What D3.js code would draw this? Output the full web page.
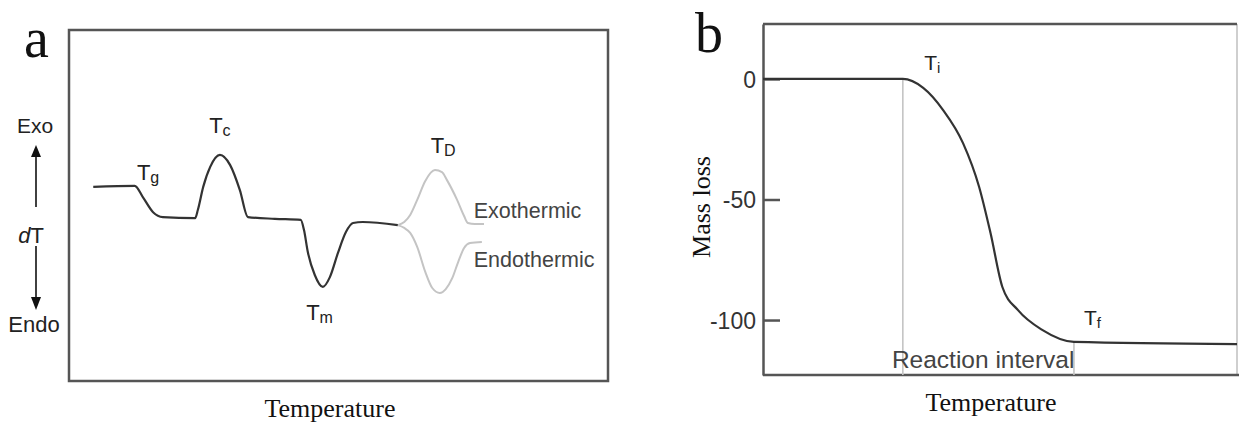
<!DOCTYPE html>
<html>
<head>
<meta charset="utf-8">
<script src="https://cdn.jsdelivr.net/npm/d3@7"></script>
<style>
    body { margin: 0; background: #fff; }
    svg { display: block; }
    .sans { font-family: "Liberation Sans", Arial, sans-serif; }
    .serif { font-family: "Liberation Serif", "Times New Roman", serif; }
</style>
</head>
<body>
<svg id="chart" width="1243" height="423"></svg>
<script>
// (a) DSC sketch: main trace, then the two branches at T_D
const dscTemp = [4.5, 12.2, 13.7, 15.6, 17.4, 23.4, 23.9, 24.9, 26.2, 28.0, 29.9, 31.7, 33.2, 38.2, 43.0,
                 43.6, 44.3, 45.6, 47.1, 48.4, 49.9, 51.4, 52.7, 54.5, 61.0];
const dscVal  = [55.3, 55.6, 52.4, 48.1, 46.7, 46.4, 48.7, 55.3, 61.0, 64.4, 61.5, 54.4, 46.7, 46.2, 45.9,
                 43.0, 36.8, 30.2, 26.8, 29.6, 36.5, 42.5, 45.0, 45.3, 44.4];
const exoTemp = [61.0, 62.2, 63.3, 64.6, 66.1, 67.9, 69.2, 70.1, 72.0, 73.3, 74.0, 75.3, 77.0];
const exoVal  = [44.4, 45.3, 47.3, 51.6, 57.0, 60.1, 59.5, 57.3, 51.6, 47.0, 45.0, 44.7, 44.7];
const endoTemp = [61.0, 62.2, 63.3, 64.6, 66.1, 67.4, 68.8, 69.9, 71.1, 72.2, 73.3, 74.4, 76.6];
const endoVal  = [44.4, 43.6, 42.2, 38.2, 31.1, 26.5, 25.1, 26.2, 29.3, 33.9, 37.9, 39.3, 39.6];
const dscSubs = ['g', 'c', 'm', 'D'];
const dscLabelTemp = [12.6, 26.0, 44.0, 67.1];
const dscLabelVal  = [57.3, 70.7, 17.4, 65.0];

// (b) TGA sketch
const tgaTemp = [0, 29.5, 33.8, 38.0, 42.2, 45.6, 48.0, 50.5, 53.8, 58.9, 65.6, 100];
const tgaMass = [0, 0, -3.7, -12.9, -26.6, -44.8, -63.9, -86.3, -95.9, -104.1, -109.1, -110];
const tgaTicks = [0, -50, -100];
const tgaOnset = 29.5, tgaEnd = 65.6;

const svg = d3.select('#chart');
const ink = '#333';

// ---------- panel a ----------
const A = {left: 69, top: 30, width: 539, height: 351};
const xA = d3.scaleLinear().domain([0, 100]).range([A.left, A.left + A.width]);
const yA = d3.scaleLinear().domain([0, 100]).range([A.top + A.height, A.top]);

svg.append('rect')
    .attr('x', A.left).attr('y', A.top)
    .attr('width', A.width).attr('height', A.height)
    .attr('fill', 'none').attr('stroke', '#555').attr('stroke-width', 2.5);

const lineA = d3.line().x(d => xA(d[0])).y(d => yA(d[1])).curve(d3.curveMonotoneX);

svg.append('path')
    .datum(exoTemp.map((t, i) => [t, exoVal[i]]))
    .attr('d', lineA).attr('fill', 'none').attr('stroke', '#c4c4c4').attr('stroke-width', 2);
svg.append('path')
    .datum(endoTemp.map((t, i) => [t, endoVal[i]]))
    .attr('d', lineA).attr('fill', 'none').attr('stroke', '#c4c4c4').attr('stroke-width', 2);
svg.append('path')
    .datum(dscTemp.map((t, i) => [t, dscVal[i]]))
    .attr('d', lineA).attr('fill', 'none').attr('stroke', ink).attr('stroke-width', 2.2);

dscSubs.forEach((s, i) => {
    const t = svg.append('text').attr('class', 'sans')
        .attr('x', xA(dscLabelTemp[i])).attr('y', yA(dscLabelVal[i]))
        .attr('fill', '#222').attr('font-size', 22);
    t.append('tspan').text('T');
    t.append('tspan').attr('dy', 3).attr('font-size', 16).text(s);
});

svg.append('text').attr('class', 'sans')
    .attr('x', xA(75.1)).attr('y', 218).attr('fill', '#444').attr('font-size', 21.5).text('Exothermic');
svg.append('text').attr('class', 'sans')
    .attr('x', xA(75.1)).attr('y', 267).attr('fill', '#444').attr('font-size', 21.5).text('Endothermic');

// y direction legend
svg.append('text').attr('class', 'sans').attr('x', 35).attr('y', 133)
    .attr('text-anchor', 'middle').attr('font-size', 21).attr('fill', '#222').text('Exo');
svg.append('text').attr('class', 'sans').attr('x', 34).attr('y', 332)
    .attr('text-anchor', 'middle').attr('font-size', 22).attr('fill', '#222').text('Endo');
const dT = svg.append('text').attr('class', 'sans').attr('x', 31).attr('y', 243)
    .attr('text-anchor', 'middle').attr('font-size', 22).attr('fill', '#222');
dT.append('tspan').attr('font-style', 'italic').text('d');
dT.append('tspan').text('T');

svg.append('line').attr('x1', 36).attr('x2', 36).attr('y1', 207).attr('y2', 155)
    .attr('stroke', '#111').attr('stroke-width', 1.6);
svg.append('path').attr('d', 'M36,145 L31,157 L41,157 Z').attr('fill', '#111');
svg.append('line').attr('x1', 36).attr('x2', 36).attr('y1', 246).attr('y2', 299)
    .attr('stroke', '#111').attr('stroke-width', 1.6);
svg.append('path').attr('d', 'M36,310 L31,297 L41,297 Z').attr('fill', '#111');

svg.append('text').attr('class', 'serif').attr('x', 24).attr('y', 57)
    .attr('font-size', 56).attr('fill', '#111').text('a');
svg.append('text').attr('class', 'serif').attr('x', 330).attr('y', 417)
    .attr('text-anchor', 'middle').attr('font-size', 26).attr('fill', '#111').text('Temperature');

// ---------- panel b ----------
const B = {left: 763, top: 24, width: 474, height: 351};
const xB = d3.scaleLinear().domain([0, 100]).range([B.left, B.left + B.width]);
const yB = d3.scaleLinear().domain([22.8, -122.8]).range([B.top, B.top + B.height]);

svg.append('line').attr('x1', B.left + B.width).attr('x2', B.left + B.width)
    .attr('y1', B.top).attr('y2', B.top + B.height)
    .attr('stroke', '#cfcfcf').attr('stroke-width', 2);
svg.append('line').attr('x1', B.left).attr('x2', B.left + B.width)
    .attr('y1', B.top).attr('y2', B.top)
    .attr('stroke', '#555').attr('stroke-width', 2.5);
svg.append('line').attr('x1', B.left).attr('x2', B.left + B.width + 2)
    .attr('y1', B.top + B.height).attr('y2', B.top + B.height)
    .attr('stroke', '#555').attr('stroke-width', 2.5);

const yAxis = svg.append('g')
    .attr('transform', `translate(${B.left},0)`)
    .call(d3.axisLeft(yB).tickValues(tgaTicks).tickFormat(d => String(d))
        .tickSizeInner(-17).tickSizeOuter(0).tickPadding(7));
yAxis.select('.domain').attr('stroke', '#555').attr('stroke-width', 2.5);
yAxis.selectAll('.tick line').attr('stroke', '#555').attr('stroke-width', 2.5);
yAxis.selectAll('.tick text').attr('class', 'sans').attr('font-size', 23).attr('fill', '#333')
    .attr('dy', '0.36em');

// reaction interval guides
[[tgaOnset, 0], [tgaEnd, -109.1]].forEach(([t, m]) => {
    svg.append('line').attr('x1', xB(t)).attr('x2', xB(t))
        .attr('y1', yB(m)).attr('y2', B.top + B.height)
        .attr('stroke', '#c4c4c4').attr('stroke-width', 1.6);
});

svg.append('path')
    .datum(tgaTemp.map((t, i) => [t, tgaMass[i]]))
    .attr('d', d3.line().x(d => xB(d[0])).y(d => yB(d[1])).curve(d3.curveMonotoneX))
    .attr('fill', 'none').attr('stroke', ink).attr('stroke-width', 2.2);

const ti = svg.append('text').attr('class', 'sans').attr('x', xB(34.0)).attr('y', yB(3.7))
    .attr('font-size', 21).attr('fill', '#222');
ti.append('tspan').text('T');
ti.append('tspan').attr('dy', 3).attr('font-size', 15).text('i');
const tf = svg.append('text').attr('class', 'sans').attr('x', xB(67.7)).attr('y', yB(-102.1))
    .attr('font-size', 21).attr('fill', '#222');
tf.append('tspan').text('T');
tf.append('tspan').attr('dy', 3).attr('font-size', 15).text('f');

svg.append('text').attr('class', 'sans').attr('x', xB(27.2)).attr('y', yB(-119.9))
    .attr('font-size', 24.5).attr('fill', '#444').text('Reaction interval');

svg.append('text').attr('class', 'serif')
    .attr('transform', 'translate(710,207) rotate(-90)')
    .attr('text-anchor', 'middle').attr('font-size', 26).attr('fill', '#111').text('Mass loss');

svg.append('text').attr('class', 'serif').attr('x', 695).attr('y', 52)
    .attr('font-size', 56).attr('fill', '#111').text('b');
svg.append('text').attr('class', 'serif').attr('x', 991).attr('y', 411)
    .attr('text-anchor', 'middle').attr('font-size', 26).attr('fill', '#111').text('Temperature');
</script>
</body>
</html>
